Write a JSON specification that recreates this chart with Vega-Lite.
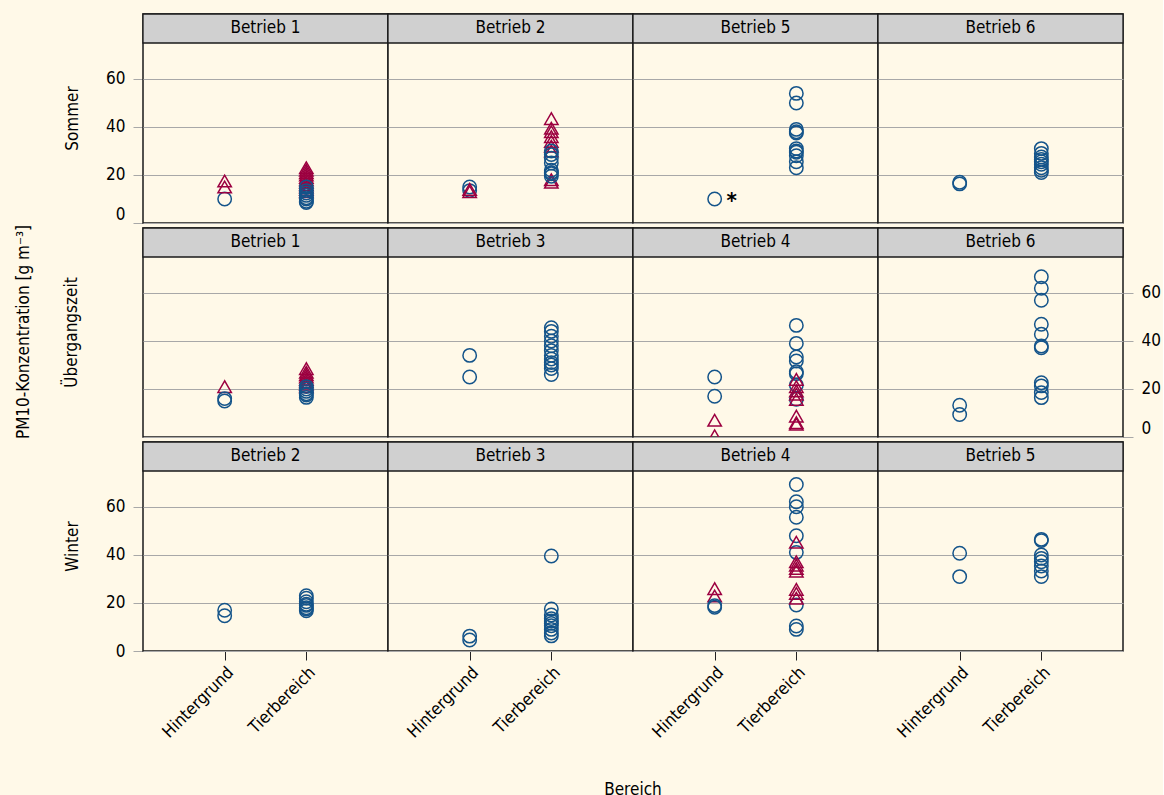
{
  "$schema": "https://vega.github.io/schema/vega-lite/v6.json",
  "background": "#fff9e8",
  "padding": {"left": 14, "top": 12, "right": 2, "bottom": 2},
  "spacing": 0,
  "config": {
    "font": "Liberation Sans Narrow, DejaVu Sans Condensed, Roboto Condensed, Arial Narrow, sans-serif",
    "view": {"stroke": "#1a1a1a", "strokeWidth": 1.5, "fill": "#fff9e8"},
    "axis": {"labelFontSize": 17, "labelColor": "#000000", "gridColor": "#a8a8a8", "gridWidth": 1.2, "tickColor": "#a8a8a8", "tickSize": 10, "domain": false, "labelPadding": 8},
    "header": {"labelFontSize": 17, "labelColor": "#000000", "titleFontSize": 17, "titleFontWeight": "normal", "titleColor": "#000000"}
  },
  "datasets": {
    "pm": [
      {"Saison":"Sommer","Spalte":1,"Betrieb":"Betrieb 1","Bereich":"Hintergrund","Typ":"A","Wert":10},
      {"Saison":"Sommer","Spalte":1,"Betrieb":"Betrieb 1","Bereich":"Hintergrund","Typ":"B","Wert":15},
      {"Saison":"Sommer","Spalte":1,"Betrieb":"Betrieb 1","Bereich":"Hintergrund","Typ":"B","Wert":17.5},
      {"Saison":"Sommer","Spalte":1,"Betrieb":"Betrieb 1","Bereich":"Tierbereich","Typ":"B","Wert":23},
      {"Saison":"Sommer","Spalte":1,"Betrieb":"Betrieb 1","Bereich":"Tierbereich","Typ":"B","Wert":22},
      {"Saison":"Sommer","Spalte":1,"Betrieb":"Betrieb 1","Bereich":"Tierbereich","Typ":"B","Wert":21},
      {"Saison":"Sommer","Spalte":1,"Betrieb":"Betrieb 1","Bereich":"Tierbereich","Typ":"B","Wert":20},
      {"Saison":"Sommer","Spalte":1,"Betrieb":"Betrieb 1","Bereich":"Tierbereich","Typ":"B","Wert":19},
      {"Saison":"Sommer","Spalte":1,"Betrieb":"Betrieb 1","Bereich":"Tierbereich","Typ":"B","Wert":18},
      {"Saison":"Sommer","Spalte":1,"Betrieb":"Betrieb 1","Bereich":"Tierbereich","Typ":"B","Wert":17},
      {"Saison":"Sommer","Spalte":1,"Betrieb":"Betrieb 1","Bereich":"Tierbereich","Typ":"B","Wert":16},
      {"Saison":"Sommer","Spalte":1,"Betrieb":"Betrieb 1","Bereich":"Tierbereich","Typ":"B","Wert":15},
      {"Saison":"Sommer","Spalte":1,"Betrieb":"Betrieb 1","Bereich":"Tierbereich","Typ":"B","Wert":14},
      {"Saison":"Sommer","Spalte":1,"Betrieb":"Betrieb 1","Bereich":"Tierbereich","Typ":"B","Wert":13},
      {"Saison":"Sommer","Spalte":1,"Betrieb":"Betrieb 1","Bereich":"Tierbereich","Typ":"A","Wert":15},
      {"Saison":"Sommer","Spalte":1,"Betrieb":"Betrieb 1","Bereich":"Tierbereich","Typ":"A","Wert":13.5},
      {"Saison":"Sommer","Spalte":1,"Betrieb":"Betrieb 1","Bereich":"Tierbereich","Typ":"A","Wert":12.5},
      {"Saison":"Sommer","Spalte":1,"Betrieb":"Betrieb 1","Bereich":"Tierbereich","Typ":"A","Wert":11.5},
      {"Saison":"Sommer","Spalte":1,"Betrieb":"Betrieb 1","Bereich":"Tierbereich","Typ":"A","Wert":10.5},
      {"Saison":"Sommer","Spalte":1,"Betrieb":"Betrieb 1","Bereich":"Tierbereich","Typ":"A","Wert":10},
      {"Saison":"Sommer","Spalte":1,"Betrieb":"Betrieb 1","Bereich":"Tierbereich","Typ":"A","Wert":9},
      {"Saison":"Sommer","Spalte":1,"Betrieb":"Betrieb 1","Bereich":"Tierbereich","Typ":"A","Wert":8.5},

      {"Saison":"Sommer","Spalte":2,"Betrieb":"Betrieb 2","Bereich":"Hintergrund","Typ":"A","Wert":15},
      {"Saison":"Sommer","Spalte":2,"Betrieb":"Betrieb 2","Bereich":"Hintergrund","Typ":"A","Wert":13.5},
      {"Saison":"Sommer","Spalte":2,"Betrieb":"Betrieb 2","Bereich":"Hintergrund","Typ":"B","Wert":14},
      {"Saison":"Sommer","Spalte":2,"Betrieb":"Betrieb 2","Bereich":"Hintergrund","Typ":"B","Wert":13},
      {"Saison":"Sommer","Spalte":2,"Betrieb":"Betrieb 2","Bereich":"Tierbereich","Typ":"B","Wert":43.5},
      {"Saison":"Sommer","Spalte":2,"Betrieb":"Betrieb 2","Bereich":"Tierbereich","Typ":"B","Wert":39.5},
      {"Saison":"Sommer","Spalte":2,"Betrieb":"Betrieb 2","Bereich":"Tierbereich","Typ":"B","Wert":38},
      {"Saison":"Sommer","Spalte":2,"Betrieb":"Betrieb 2","Bereich":"Tierbereich","Typ":"B","Wert":36},
      {"Saison":"Sommer","Spalte":2,"Betrieb":"Betrieb 2","Bereich":"Tierbereich","Typ":"B","Wert":34},
      {"Saison":"Sommer","Spalte":2,"Betrieb":"Betrieb 2","Bereich":"Tierbereich","Typ":"B","Wert":32},
      {"Saison":"Sommer","Spalte":2,"Betrieb":"Betrieb 2","Bereich":"Tierbereich","Typ":"B","Wert":30},
      {"Saison":"Sommer","Spalte":2,"Betrieb":"Betrieb 2","Bereich":"Tierbereich","Typ":"B","Wert":18},
      {"Saison":"Sommer","Spalte":2,"Betrieb":"Betrieb 2","Bereich":"Tierbereich","Typ":"B","Wert":17},
      {"Saison":"Sommer","Spalte":2,"Betrieb":"Betrieb 2","Bereich":"Tierbereich","Typ":"A","Wert":30},
      {"Saison":"Sommer","Spalte":2,"Betrieb":"Betrieb 2","Bereich":"Tierbereich","Typ":"A","Wert":28.5},
      {"Saison":"Sommer","Spalte":2,"Betrieb":"Betrieb 2","Bereich":"Tierbereich","Typ":"A","Wert":27},
      {"Saison":"Sommer","Spalte":2,"Betrieb":"Betrieb 2","Bereich":"Tierbereich","Typ":"A","Wert":25},
      {"Saison":"Sommer","Spalte":2,"Betrieb":"Betrieb 2","Bereich":"Tierbereich","Typ":"A","Wert":22},
      {"Saison":"Sommer","Spalte":2,"Betrieb":"Betrieb 2","Bereich":"Tierbereich","Typ":"A","Wert":21},
      {"Saison":"Sommer","Spalte":2,"Betrieb":"Betrieb 2","Bereich":"Tierbereich","Typ":"A","Wert":20.5},
      {"Saison":"Sommer","Spalte":2,"Betrieb":"Betrieb 2","Bereich":"Tierbereich","Typ":"A","Wert":19.5},

      {"Saison":"Sommer","Spalte":3,"Betrieb":"Betrieb 5","Bereich":"Hintergrund","Typ":"A","Wert":10,"Hinweis":"*"},
      {"Saison":"Sommer","Spalte":3,"Betrieb":"Betrieb 5","Bereich":"Tierbereich","Typ":"A","Wert":54},
      {"Saison":"Sommer","Spalte":3,"Betrieb":"Betrieb 5","Bereich":"Tierbereich","Typ":"A","Wert":50},
      {"Saison":"Sommer","Spalte":3,"Betrieb":"Betrieb 5","Bereich":"Tierbereich","Typ":"A","Wert":39},
      {"Saison":"Sommer","Spalte":3,"Betrieb":"Betrieb 5","Bereich":"Tierbereich","Typ":"A","Wert":38},
      {"Saison":"Sommer","Spalte":3,"Betrieb":"Betrieb 5","Bereich":"Tierbereich","Typ":"A","Wert":37.5},
      {"Saison":"Sommer","Spalte":3,"Betrieb":"Betrieb 5","Bereich":"Tierbereich","Typ":"A","Wert":31},
      {"Saison":"Sommer","Spalte":3,"Betrieb":"Betrieb 5","Bereich":"Tierbereich","Typ":"A","Wert":30},
      {"Saison":"Sommer","Spalte":3,"Betrieb":"Betrieb 5","Bereich":"Tierbereich","Typ":"A","Wert":29.5},
      {"Saison":"Sommer","Spalte":3,"Betrieb":"Betrieb 5","Bereich":"Tierbereich","Typ":"A","Wert":28},
      {"Saison":"Sommer","Spalte":3,"Betrieb":"Betrieb 5","Bereich":"Tierbereich","Typ":"A","Wert":25.5},
      {"Saison":"Sommer","Spalte":3,"Betrieb":"Betrieb 5","Bereich":"Tierbereich","Typ":"A","Wert":23},

      {"Saison":"Sommer","Spalte":4,"Betrieb":"Betrieb 6","Bereich":"Hintergrund","Typ":"A","Wert":17},
      {"Saison":"Sommer","Spalte":4,"Betrieb":"Betrieb 6","Bereich":"Hintergrund","Typ":"A","Wert":16.3},
      {"Saison":"Sommer","Spalte":4,"Betrieb":"Betrieb 6","Bereich":"Tierbereich","Typ":"A","Wert":31},
      {"Saison":"Sommer","Spalte":4,"Betrieb":"Betrieb 6","Bereich":"Tierbereich","Typ":"A","Wert":29},
      {"Saison":"Sommer","Spalte":4,"Betrieb":"Betrieb 6","Bereich":"Tierbereich","Typ":"A","Wert":27.5},
      {"Saison":"Sommer","Spalte":4,"Betrieb":"Betrieb 6","Bereich":"Tierbereich","Typ":"A","Wert":26.5},
      {"Saison":"Sommer","Spalte":4,"Betrieb":"Betrieb 6","Bereich":"Tierbereich","Typ":"A","Wert":25.5},
      {"Saison":"Sommer","Spalte":4,"Betrieb":"Betrieb 6","Bereich":"Tierbereich","Typ":"A","Wert":24.5},
      {"Saison":"Sommer","Spalte":4,"Betrieb":"Betrieb 6","Bereich":"Tierbereich","Typ":"A","Wert":23},
      {"Saison":"Sommer","Spalte":4,"Betrieb":"Betrieb 6","Bereich":"Tierbereich","Typ":"A","Wert":22},
      {"Saison":"Sommer","Spalte":4,"Betrieb":"Betrieb 6","Bereich":"Tierbereich","Typ":"A","Wert":21},

      {"Saison":"Übergangszeit","Spalte":1,"Betrieb":"Betrieb 1","Bereich":"Hintergrund","Typ":"B","Wert":21},
      {"Saison":"Übergangszeit","Spalte":1,"Betrieb":"Betrieb 1","Bereich":"Hintergrund","Typ":"A","Wert":16},
      {"Saison":"Übergangszeit","Spalte":1,"Betrieb":"Betrieb 1","Bereich":"Hintergrund","Typ":"A","Wert":15},
      {"Saison":"Übergangszeit","Spalte":1,"Betrieb":"Betrieb 1","Bereich":"Tierbereich","Typ":"B","Wert":28.5},
      {"Saison":"Übergangszeit","Spalte":1,"Betrieb":"Betrieb 1","Bereich":"Tierbereich","Typ":"B","Wert":27},
      {"Saison":"Übergangszeit","Spalte":1,"Betrieb":"Betrieb 1","Bereich":"Tierbereich","Typ":"B","Wert":26},
      {"Saison":"Übergangszeit","Spalte":1,"Betrieb":"Betrieb 1","Bereich":"Tierbereich","Typ":"B","Wert":25},
      {"Saison":"Übergangszeit","Spalte":1,"Betrieb":"Betrieb 1","Bereich":"Tierbereich","Typ":"B","Wert":24},
      {"Saison":"Übergangszeit","Spalte":1,"Betrieb":"Betrieb 1","Bereich":"Tierbereich","Typ":"B","Wert":23},
      {"Saison":"Übergangszeit","Spalte":1,"Betrieb":"Betrieb 1","Bereich":"Tierbereich","Typ":"B","Wert":22},
      {"Saison":"Übergangszeit","Spalte":1,"Betrieb":"Betrieb 1","Bereich":"Tierbereich","Typ":"B","Wert":21},
      {"Saison":"Übergangszeit","Spalte":1,"Betrieb":"Betrieb 1","Bereich":"Tierbereich","Typ":"A","Wert":21},
      {"Saison":"Übergangszeit","Spalte":1,"Betrieb":"Betrieb 1","Bereich":"Tierbereich","Typ":"A","Wert":20},
      {"Saison":"Übergangszeit","Spalte":1,"Betrieb":"Betrieb 1","Bereich":"Tierbereich","Typ":"A","Wert":19},
      {"Saison":"Übergangszeit","Spalte":1,"Betrieb":"Betrieb 1","Bereich":"Tierbereich","Typ":"A","Wert":18},
      {"Saison":"Übergangszeit","Spalte":1,"Betrieb":"Betrieb 1","Bereich":"Tierbereich","Typ":"A","Wert":17.5},
      {"Saison":"Übergangszeit","Spalte":1,"Betrieb":"Betrieb 1","Bereich":"Tierbereich","Typ":"A","Wert":16.5},

      {"Saison":"Übergangszeit","Spalte":2,"Betrieb":"Betrieb 3","Bereich":"Hintergrund","Typ":"A","Wert":34},
      {"Saison":"Übergangszeit","Spalte":2,"Betrieb":"Betrieb 3","Bereich":"Hintergrund","Typ":"A","Wert":25},
      {"Saison":"Übergangszeit","Spalte":2,"Betrieb":"Betrieb 3","Bereich":"Tierbereich","Typ":"A","Wert":45.5},
      {"Saison":"Übergangszeit","Spalte":2,"Betrieb":"Betrieb 3","Bereich":"Tierbereich","Typ":"A","Wert":44},
      {"Saison":"Übergangszeit","Spalte":2,"Betrieb":"Betrieb 3","Bereich":"Tierbereich","Typ":"A","Wert":42},
      {"Saison":"Übergangszeit","Spalte":2,"Betrieb":"Betrieb 3","Bereich":"Tierbereich","Typ":"A","Wert":40},
      {"Saison":"Übergangszeit","Spalte":2,"Betrieb":"Betrieb 3","Bereich":"Tierbereich","Typ":"A","Wert":38},
      {"Saison":"Übergangszeit","Spalte":2,"Betrieb":"Betrieb 3","Bereich":"Tierbereich","Typ":"A","Wert":36},
      {"Saison":"Übergangszeit","Spalte":2,"Betrieb":"Betrieb 3","Bereich":"Tierbereich","Typ":"A","Wert":34},
      {"Saison":"Übergangszeit","Spalte":2,"Betrieb":"Betrieb 3","Bereich":"Tierbereich","Typ":"A","Wert":32.5},
      {"Saison":"Übergangszeit","Spalte":2,"Betrieb":"Betrieb 3","Bereich":"Tierbereich","Typ":"A","Wert":31},
      {"Saison":"Übergangszeit","Spalte":2,"Betrieb":"Betrieb 3","Bereich":"Tierbereich","Typ":"A","Wert":30},
      {"Saison":"Übergangszeit","Spalte":2,"Betrieb":"Betrieb 3","Bereich":"Tierbereich","Typ":"A","Wert":28.5},
      {"Saison":"Übergangszeit","Spalte":2,"Betrieb":"Betrieb 3","Bereich":"Tierbereich","Typ":"A","Wert":26},

      {"Saison":"Übergangszeit","Spalte":3,"Betrieb":"Betrieb 4","Bereich":"Hintergrund","Typ":"A","Wert":25},
      {"Saison":"Übergangszeit","Spalte":3,"Betrieb":"Betrieb 4","Bereich":"Hintergrund","Typ":"A","Wert":17},
      {"Saison":"Übergangszeit","Spalte":3,"Betrieb":"Betrieb 4","Bereich":"Hintergrund","Typ":"B","Wert":7},
      {"Saison":"Übergangszeit","Spalte":3,"Betrieb":"Betrieb 4","Bereich":"Hintergrund","Typ":"B","Wert":0.5},
      {"Saison":"Übergangszeit","Spalte":3,"Betrieb":"Betrieb 4","Bereich":"Tierbereich","Typ":"A","Wert":46.5},
      {"Saison":"Übergangszeit","Spalte":3,"Betrieb":"Betrieb 4","Bereich":"Tierbereich","Typ":"A","Wert":39},
      {"Saison":"Übergangszeit","Spalte":3,"Betrieb":"Betrieb 4","Bereich":"Tierbereich","Typ":"A","Wert":33.3},
      {"Saison":"Übergangszeit","Spalte":3,"Betrieb":"Betrieb 4","Bereich":"Tierbereich","Typ":"A","Wert":31.7},
      {"Saison":"Übergangszeit","Spalte":3,"Betrieb":"Betrieb 4","Bereich":"Tierbereich","Typ":"A","Wert":27.2},
      {"Saison":"Übergangszeit","Spalte":3,"Betrieb":"Betrieb 4","Bereich":"Tierbereich","Typ":"A","Wert":26.4},
      {"Saison":"Übergangszeit","Spalte":3,"Betrieb":"Betrieb 4","Bereich":"Tierbereich","Typ":"A","Wert":21.7},
      {"Saison":"Übergangszeit","Spalte":3,"Betrieb":"Betrieb 4","Bereich":"Tierbereich","Typ":"A","Wert":15.7},
      {"Saison":"Übergangszeit","Spalte":3,"Betrieb":"Betrieb 4","Bereich":"Tierbereich","Typ":"B","Wert":24},
      {"Saison":"Übergangszeit","Spalte":3,"Betrieb":"Betrieb 4","Bereich":"Tierbereich","Typ":"B","Wert":21},
      {"Saison":"Übergangszeit","Spalte":3,"Betrieb":"Betrieb 4","Bereich":"Tierbereich","Typ":"B","Wert":19.2},
      {"Saison":"Übergangszeit","Spalte":3,"Betrieb":"Betrieb 4","Bereich":"Tierbereich","Typ":"B","Wert":17.8},
      {"Saison":"Übergangszeit","Spalte":3,"Betrieb":"Betrieb 4","Bereich":"Tierbereich","Typ":"B","Wert":15.7},
      {"Saison":"Übergangszeit","Spalte":3,"Betrieb":"Betrieb 4","Bereich":"Tierbereich","Typ":"B","Wert":8.7},
      {"Saison":"Übergangszeit","Spalte":3,"Betrieb":"Betrieb 4","Bereich":"Tierbereich","Typ":"B","Wert":6},
      {"Saison":"Übergangszeit","Spalte":3,"Betrieb":"Betrieb 4","Bereich":"Tierbereich","Typ":"B","Wert":5.3},

      {"Saison":"Übergangszeit","Spalte":4,"Betrieb":"Betrieb 6","Bereich":"Hintergrund","Typ":"A","Wert":13.2},
      {"Saison":"Übergangszeit","Spalte":4,"Betrieb":"Betrieb 6","Bereich":"Hintergrund","Typ":"A","Wert":9.4},
      {"Saison":"Übergangszeit","Spalte":4,"Betrieb":"Betrieb 6","Bereich":"Tierbereich","Typ":"A","Wert":66.8},
      {"Saison":"Übergangszeit","Spalte":4,"Betrieb":"Betrieb 6","Bereich":"Tierbereich","Typ":"A","Wert":62},
      {"Saison":"Übergangszeit","Spalte":4,"Betrieb":"Betrieb 6","Bereich":"Tierbereich","Typ":"A","Wert":57},
      {"Saison":"Übergangszeit","Spalte":4,"Betrieb":"Betrieb 6","Bereich":"Tierbereich","Typ":"A","Wert":47},
      {"Saison":"Übergangszeit","Spalte":4,"Betrieb":"Betrieb 6","Bereich":"Tierbereich","Typ":"A","Wert":42.8},
      {"Saison":"Übergangszeit","Spalte":4,"Betrieb":"Betrieb 6","Bereich":"Tierbereich","Typ":"A","Wert":37.9},
      {"Saison":"Übergangszeit","Spalte":4,"Betrieb":"Betrieb 6","Bereich":"Tierbereich","Typ":"A","Wert":37.2},
      {"Saison":"Übergangszeit","Spalte":4,"Betrieb":"Betrieb 6","Bereich":"Tierbereich","Typ":"A","Wert":22.6},
      {"Saison":"Übergangszeit","Spalte":4,"Betrieb":"Betrieb 6","Bereich":"Tierbereich","Typ":"A","Wert":21.3},
      {"Saison":"Übergangszeit","Spalte":4,"Betrieb":"Betrieb 6","Bereich":"Tierbereich","Typ":"A","Wert":18.5},
      {"Saison":"Übergangszeit","Spalte":4,"Betrieb":"Betrieb 6","Bereich":"Tierbereich","Typ":"A","Wert":16.4},

      {"Saison":"Winter","Spalte":1,"Betrieb":"Betrieb 2","Bereich":"Hintergrund","Typ":"A","Wert":17},
      {"Saison":"Winter","Spalte":1,"Betrieb":"Betrieb 2","Bereich":"Hintergrund","Typ":"A","Wert":14.7},
      {"Saison":"Winter","Spalte":1,"Betrieb":"Betrieb 2","Bereich":"Tierbereich","Typ":"A","Wert":23},
      {"Saison":"Winter","Spalte":1,"Betrieb":"Betrieb 2","Bereich":"Tierbereich","Typ":"A","Wert":22},
      {"Saison":"Winter","Spalte":1,"Betrieb":"Betrieb 2","Bereich":"Tierbereich","Typ":"A","Wert":20.5},
      {"Saison":"Winter","Spalte":1,"Betrieb":"Betrieb 2","Bereich":"Tierbereich","Typ":"A","Wert":19.5},
      {"Saison":"Winter","Spalte":1,"Betrieb":"Betrieb 2","Bereich":"Tierbereich","Typ":"A","Wert":19},
      {"Saison":"Winter","Spalte":1,"Betrieb":"Betrieb 2","Bereich":"Tierbereich","Typ":"A","Wert":18},
      {"Saison":"Winter","Spalte":1,"Betrieb":"Betrieb 2","Bereich":"Tierbereich","Typ":"A","Wert":17.5},
      {"Saison":"Winter","Spalte":1,"Betrieb":"Betrieb 2","Bereich":"Tierbereich","Typ":"A","Wert":16.8},

      {"Saison":"Winter","Spalte":2,"Betrieb":"Betrieb 3","Bereich":"Hintergrund","Typ":"A","Wert":6.2},
      {"Saison":"Winter","Spalte":2,"Betrieb":"Betrieb 3","Bereich":"Hintergrund","Typ":"A","Wert":4.6},
      {"Saison":"Winter","Spalte":2,"Betrieb":"Betrieb 3","Bereich":"Tierbereich","Typ":"A","Wert":39.6},
      {"Saison":"Winter","Spalte":2,"Betrieb":"Betrieb 3","Bereich":"Tierbereich","Typ":"A","Wert":17.5},
      {"Saison":"Winter","Spalte":2,"Betrieb":"Betrieb 3","Bereich":"Tierbereich","Typ":"A","Wert":15},
      {"Saison":"Winter","Spalte":2,"Betrieb":"Betrieb 3","Bereich":"Tierbereich","Typ":"A","Wert":13.5},
      {"Saison":"Winter","Spalte":2,"Betrieb":"Betrieb 3","Bereich":"Tierbereich","Typ":"A","Wert":12.5},
      {"Saison":"Winter","Spalte":2,"Betrieb":"Betrieb 3","Bereich":"Tierbereich","Typ":"A","Wert":11.5},
      {"Saison":"Winter","Spalte":2,"Betrieb":"Betrieb 3","Bereich":"Tierbereich","Typ":"A","Wert":10.5},
      {"Saison":"Winter","Spalte":2,"Betrieb":"Betrieb 3","Bereich":"Tierbereich","Typ":"A","Wert":9},
      {"Saison":"Winter","Spalte":2,"Betrieb":"Betrieb 3","Bereich":"Tierbereich","Typ":"A","Wert":7.5},
      {"Saison":"Winter","Spalte":2,"Betrieb":"Betrieb 3","Bereich":"Tierbereich","Typ":"A","Wert":6.3},

      {"Saison":"Winter","Spalte":3,"Betrieb":"Betrieb 4","Bereich":"Hintergrund","Typ":"B","Wert":26},
      {"Saison":"Winter","Spalte":3,"Betrieb":"Betrieb 4","Bereich":"Hintergrund","Typ":"B","Wert":22.9},
      {"Saison":"Winter","Spalte":3,"Betrieb":"Betrieb 4","Bereich":"Hintergrund","Typ":"A","Wert":18.9},
      {"Saison":"Winter","Spalte":3,"Betrieb":"Betrieb 4","Bereich":"Hintergrund","Typ":"A","Wert":18.2},
      {"Saison":"Winter","Spalte":3,"Betrieb":"Betrieb 4","Bereich":"Tierbereich","Typ":"A","Wert":69.4},
      {"Saison":"Winter","Spalte":3,"Betrieb":"Betrieb 4","Bereich":"Tierbereich","Typ":"A","Wert":62.2},
      {"Saison":"Winter","Spalte":3,"Betrieb":"Betrieb 4","Bereich":"Tierbereich","Typ":"A","Wert":60.1},
      {"Saison":"Winter","Spalte":3,"Betrieb":"Betrieb 4","Bereich":"Tierbereich","Typ":"A","Wert":55.7},
      {"Saison":"Winter","Spalte":3,"Betrieb":"Betrieb 4","Bereich":"Tierbereich","Typ":"A","Wert":48},
      {"Saison":"Winter","Spalte":3,"Betrieb":"Betrieb 4","Bereich":"Tierbereich","Typ":"A","Wert":41.1},
      {"Saison":"Winter","Spalte":3,"Betrieb":"Betrieb 4","Bereich":"Tierbereich","Typ":"A","Wert":19.2},
      {"Saison":"Winter","Spalte":3,"Betrieb":"Betrieb 4","Bereich":"Tierbereich","Typ":"A","Wert":10.4},
      {"Saison":"Winter","Spalte":3,"Betrieb":"Betrieb 4","Bereich":"Tierbereich","Typ":"A","Wert":9},
      {"Saison":"Winter","Spalte":3,"Betrieb":"Betrieb 4","Bereich":"Tierbereich","Typ":"B","Wert":45.3},
      {"Saison":"Winter","Spalte":3,"Betrieb":"Betrieb 4","Bereich":"Tierbereich","Typ":"B","Wert":37.2},
      {"Saison":"Winter","Spalte":3,"Betrieb":"Betrieb 4","Bereich":"Tierbereich","Typ":"B","Wert":35.8},
      {"Saison":"Winter","Spalte":3,"Betrieb":"Betrieb 4","Bereich":"Tierbereich","Typ":"B","Wert":34.4},
      {"Saison":"Winter","Spalte":3,"Betrieb":"Betrieb 4","Bereich":"Tierbereich","Typ":"B","Wert":33.3},
      {"Saison":"Winter","Spalte":3,"Betrieb":"Betrieb 4","Bereich":"Tierbereich","Typ":"B","Wert":25.7},
      {"Saison":"Winter","Spalte":3,"Betrieb":"Betrieb 4","Bereich":"Tierbereich","Typ":"B","Wert":24},
      {"Saison":"Winter","Spalte":3,"Betrieb":"Betrieb 4","Bereich":"Tierbereich","Typ":"B","Wert":22},

      {"Saison":"Winter","Spalte":4,"Betrieb":"Betrieb 5","Bereich":"Hintergrund","Typ":"A","Wert":40.7},
      {"Saison":"Winter","Spalte":4,"Betrieb":"Betrieb 5","Bereich":"Hintergrund","Typ":"A","Wert":31},
      {"Saison":"Winter","Spalte":4,"Betrieb":"Betrieb 5","Bereich":"Tierbereich","Typ":"A","Wert":46.5},
      {"Saison":"Winter","Spalte":4,"Betrieb":"Betrieb 5","Bereich":"Tierbereich","Typ":"A","Wert":46},
      {"Saison":"Winter","Spalte":4,"Betrieb":"Betrieb 5","Bereich":"Tierbereich","Typ":"A","Wert":40},
      {"Saison":"Winter","Spalte":4,"Betrieb":"Betrieb 5","Bereich":"Tierbereich","Typ":"A","Wert":38.6},
      {"Saison":"Winter","Spalte":4,"Betrieb":"Betrieb 5","Bereich":"Tierbereich","Typ":"A","Wert":37.2},
      {"Saison":"Winter","Spalte":4,"Betrieb":"Betrieb 5","Bereich":"Tierbereich","Typ":"A","Wert":35.4},
      {"Saison":"Winter","Spalte":4,"Betrieb":"Betrieb 5","Bereich":"Tierbereich","Typ":"A","Wert":33.3},
      {"Saison":"Winter","Spalte":4,"Betrieb":"Betrieb 5","Bereich":"Tierbereich","Typ":"A","Wert":31}
    ]
  },
  "vconcat": [
    {
      "data": {"name": "pm"},
      "transform": [{"filter": "datum.Saison === 'Sommer'"}],
      "bounds": "flush",
      "facet": {
        "row": {"field": "Saison", "type": "nominal", "header": {"title": null, "labelAngle": -90, "labelPadding": 16}},
        "column": {"field": "Spalte", "type": "ordinal", "header": null}
      },
      "spacing": 0,
      "spec": {
        "width": 245,
        "height": 209,
        "layer": [
          {
            "mark": {"type": "point", "filled": false, "opacity": 1, "strokeWidth": 1.5, "size": 180, "clip": true},
            "encoding": {
              "x": {"field": "Bereich", "type": "nominal", "scale": {"type": "point", "padding": 1, "domain": ["Hintergrund", "Tierbereich"]}, "axis": null},
              "y": {"field": "Wert", "type": "quantitative", "scale": {"domain": [0, 87.08], "nice": false, "zero": false}, "axis": {"title": null, "orient": "left", "values": [0, 20, 40, 60], "grid": true, "labelFlush": true}},
              "shape": {"field": "Typ", "type": "nominal", "scale": {"domain": ["A", "B"], "range": ["circle", "triangle-up"]}, "legend": null},
              "color": {"field": "Typ", "type": "nominal", "scale": {"domain": ["A", "B"], "range": ["#14548a", "#9c0040"]}, "legend": null}
            }
          },
          {
            "transform": [{"filter": "datum.Hinweis === '*'"}],
            "mark": {"type": "text", "fontSize": 22, "fontWeight": "bold", "color": "#000000", "dx": 17, "dy": 2},
            "encoding": {
              "x": {"field": "Bereich", "type": "nominal", "axis": null},
              "y": {"field": "Wert", "type": "quantitative", "axis": {"title": null, "orient": "left", "values": [0, 20, 40, 60], "grid": true, "labelFlush": true}},
              "text": {"field": "Hinweis"}
            }
          },
          {
            "transform": [{"aggregate": [{"op": "count", "as": "n"}], "groupby": ["Saison", "Spalte", "Betrieb"]}],
            "layer": [
              {
                "mark": {"type": "rect", "fill": "#d0d0d0", "stroke": "#1a1a1a", "strokeWidth": 1.3},
                "encoding": {
                  "y": {"datum": 75, "type": "quantitative", "axis": {"title": null, "orient": "left", "values": [0, 20, 40, 60], "grid": true, "labelFlush": true}},
                  "y2": {"datum": 87.08}
                }
              },
              {
                "mark": {"type": "text", "fontSize": 17, "color": "#000000", "baseline": "middle"},
                "encoding": {
                  "y": {"datum": 81.04, "type": "quantitative", "axis": {"title": null, "orient": "left", "values": [0, 20, 40, 60], "grid": true, "labelFlush": true}},
                  "text": {"field": "Betrieb"}
                }
              }
            ]
          }
        ]
      }
    },
    {
      "data": {"name": "pm"},
      "transform": [{"filter": "datum.Saison === 'Übergangszeit'"}],
      "bounds": "flush",
      "facet": {
        "row": {"field": "Saison", "type": "nominal", "header": {"title": "PM10-Konzentration [g m⁻³]", "titlePadding": 20, "labelAngle": -90, "labelPadding": 54}},
        "column": {"field": "Spalte", "type": "ordinal", "header": null}
      },
      "spacing": 0,
      "spec": {
        "width": 245,
        "height": 209,
        "layer": [
          {
            "mark": {"type": "point", "filled": false, "opacity": 1, "strokeWidth": 1.5, "size": 180, "clip": true},
            "encoding": {
              "x": {"field": "Bereich", "type": "nominal", "scale": {"type": "point", "padding": 1, "domain": ["Hintergrund", "Tierbereich"]}, "axis": null},
              "y": {"field": "Wert", "type": "quantitative", "scale": {"domain": [0, 87.08], "nice": false, "zero": false}, "axis": {"title": null, "orient": "right", "values": [0, 20, 40, 60], "grid": true, "labelFlush": true}},
              "shape": {"field": "Typ", "type": "nominal", "scale": {"domain": ["A", "B"], "range": ["circle", "triangle-up"]}, "legend": null},
              "color": {"field": "Typ", "type": "nominal", "scale": {"domain": ["A", "B"], "range": ["#14548a", "#9c0040"]}, "legend": null}
            }
          },
          {
            "transform": [{"aggregate": [{"op": "count", "as": "n"}], "groupby": ["Saison", "Spalte", "Betrieb"]}],
            "layer": [
              {
                "mark": {"type": "rect", "fill": "#d0d0d0", "stroke": "#1a1a1a", "strokeWidth": 1.3},
                "encoding": {
                  "y": {"datum": 75, "type": "quantitative", "axis": {"title": null, "orient": "right", "values": [0, 20, 40, 60], "grid": true, "labelFlush": true}},
                  "y2": {"datum": 87.08}
                }
              },
              {
                "mark": {"type": "text", "fontSize": 17, "color": "#000000", "baseline": "middle"},
                "encoding": {
                  "y": {"datum": 81.04, "type": "quantitative", "axis": {"title": null, "orient": "right", "values": [0, 20, 40, 60], "grid": true, "labelFlush": true}},
                  "text": {"field": "Betrieb"}
                }
              }
            ]
          }
        ]
      }
    },
    {
      "data": {"name": "pm"},
      "transform": [{"filter": "datum.Saison === 'Winter'"}],
      "bounds": "flush",
      "facet": {
        "row": {"field": "Saison", "type": "nominal", "header": {"title": null, "labelAngle": -90, "labelPadding": 16}},
        "column": {"field": "Spalte", "type": "ordinal", "header": {"labels": false, "title": "Bereich", "titleOrient": "bottom", "titlePadding": 31}}
      },
      "spacing": 0,
      "spec": {
        "width": 245,
        "height": 209,
        "layer": [
          {
            "mark": {"type": "point", "filled": false, "opacity": 1, "strokeWidth": 1.5, "size": 180},
            "encoding": {
              "x": {"field": "Bereich", "type": "nominal", "scale": {"type": "point", "padding": 1, "domain": ["Hintergrund", "Tierbereich"]}, "axis": {"title": null, "labelAngle": -45, "tickColor": "#222222", "tickSize": 9, "grid": false, "labelPadding": 4}},
              "y": {"field": "Wert", "type": "quantitative", "scale": {"domain": [0, 87.08], "nice": false, "zero": false}, "axis": {"title": null, "orient": "left", "values": [0, 20, 40, 60], "grid": true}},
              "shape": {"field": "Typ", "type": "nominal", "scale": {"domain": ["A", "B"], "range": ["circle", "triangle-up"]}, "legend": null},
              "color": {"field": "Typ", "type": "nominal", "scale": {"domain": ["A", "B"], "range": ["#14548a", "#9c0040"]}, "legend": null}
            }
          },
          {
            "transform": [{"aggregate": [{"op": "count", "as": "n"}], "groupby": ["Saison", "Spalte", "Betrieb"]}],
            "layer": [
              {
                "mark": {"type": "rect", "fill": "#d0d0d0", "stroke": "#1a1a1a", "strokeWidth": 1.3},
                "encoding": {
                  "y": {"datum": 75, "type": "quantitative", "axis": {"title": null, "orient": "left", "values": [0, 20, 40, 60], "grid": true}},
                  "y2": {"datum": 87.08}
                }
              },
              {
                "mark": {"type": "text", "fontSize": 17, "color": "#000000", "baseline": "middle"},
                "encoding": {
                  "y": {"datum": 81.04, "type": "quantitative", "axis": {"title": null, "orient": "left", "values": [0, 20, 40, 60], "grid": true}},
                  "text": {"field": "Betrieb"}
                }
              }
            ]
          }
        ]
      }
    }
  ]
}
